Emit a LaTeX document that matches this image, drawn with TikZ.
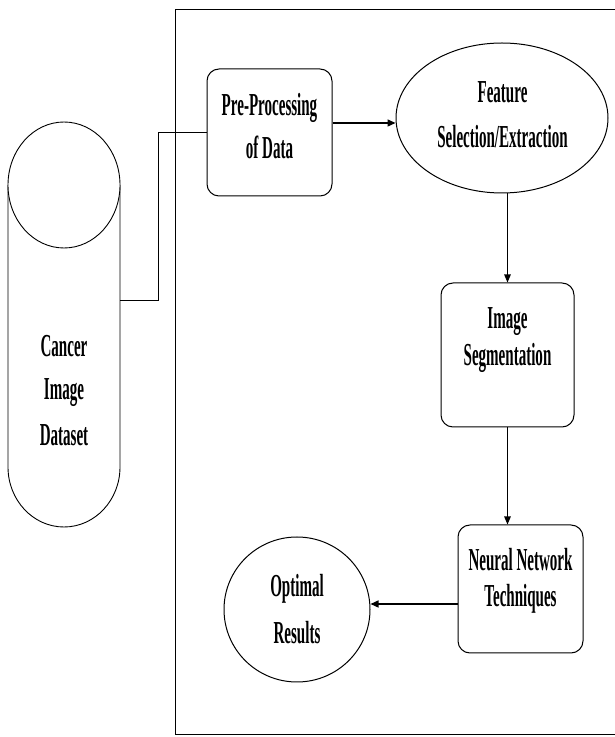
\documentclass[tikz,border=0pt]{standalone}
\usepackage{fontspec}
\setmainfont{Liberation Serif}[FakeStretch=0.47]
\usetikzlibrary{shapes.geometric,arrows.meta,calc}
\tikzset{
  rbox/.style={draw, line width=1pt, rounded corners=12pt, inner sep=0pt},
  ell/.style={draw, ellipse, line width=1pt, inner sep=0pt},
  txt/.style={anchor=base, font=\fontsize{32}{36}\selectfont\bfseries, inner sep=0pt},
  conn/.style={line width=1pt},
  arr/.style={line width=1.1pt, -{Triangle[length=8pt,width=6.5pt]}},
  harr/.style={line width=1.5pt, -{Triangle[length=8pt,width=7pt]}}
}
\begin{document}
\begin{tikzpicture}[x=1pt,y=1pt]
\useasboundingbox (0,0) rectangle (615,737);
% frame
\draw[line width=1pt] (625,727) -- (175,727) -- (175,2) -- (625,2);
% cylinder
\draw[line width=0.9pt] (8,552) -- (8,270) arc[start angle=180,end angle=360,x radius=56,y radius=60] -- (120,552);
\draw[line width=0.9pt, fill=white] (64,552) ellipse[x radius=56,y radius=63];
\node[txt] (db1) at (64,380) {Cancer};
\node[txt] (db2) at (64,337) {Image};
\node[txt] (db3) at (64,291) {Dataset};
\coordinate (cylport) at (120,436);
% shapes
\node[rbox, minimum width=125pt, minimum height=127pt] (pre) at (269.5,604.5) {};
\node[txt] (pre1) at (269.5,621) {Pre-Processing};
\node[txt] (pre2) at (269.5,578) {of Data};
\node[ell, minimum width=212pt, minimum height=150pt] (feat) at (502,619) {};
\node[txt] (feat1) at (502.5,634) {Feature};
\node[txt] (feat2) at (502.5,589) {Selection/Extraction};
\node[rbox, minimum width=133pt, minimum height=144pt] (seg) at (507.5,382) {};
\node[txt] (seg1) at (507.5,408) {Image};
\node[txt] (seg2) at (507.5,371) {Segmentation};
\node[rbox, minimum width=125pt, minimum height=128pt] (nn) at (520.5,148) {};
\node[txt] (nn1) at (520.5,166) {Neural Network};
\node[txt] (nn2) at (520.5,130) {Techniques};
\node[ell, minimum width=146pt, minimum height=145pt] (opt) at (297,127.5) {};
\node[txt] (opt1) at (297,140) {Optimal};
\node[txt] (opt2) at (297,93) {Results};
% connectors
\draw[conn] (cylport) -- ++(38,0) |- (pre.west);
\draw[harr] ([yshift=9.5pt]pre.east) -- ([yshift=9.5pt]pre.east -| feat.west);
\draw[arr] (seg.north |- feat.south) -- (seg.north);
\draw[arr] (seg.south) -- (seg.south |- nn.north);
\draw[harr] ([yshift=-15pt]nn.west) -- ([yshift=-15pt]nn.west -| opt.east);
\end{tikzpicture}
\end{document}
